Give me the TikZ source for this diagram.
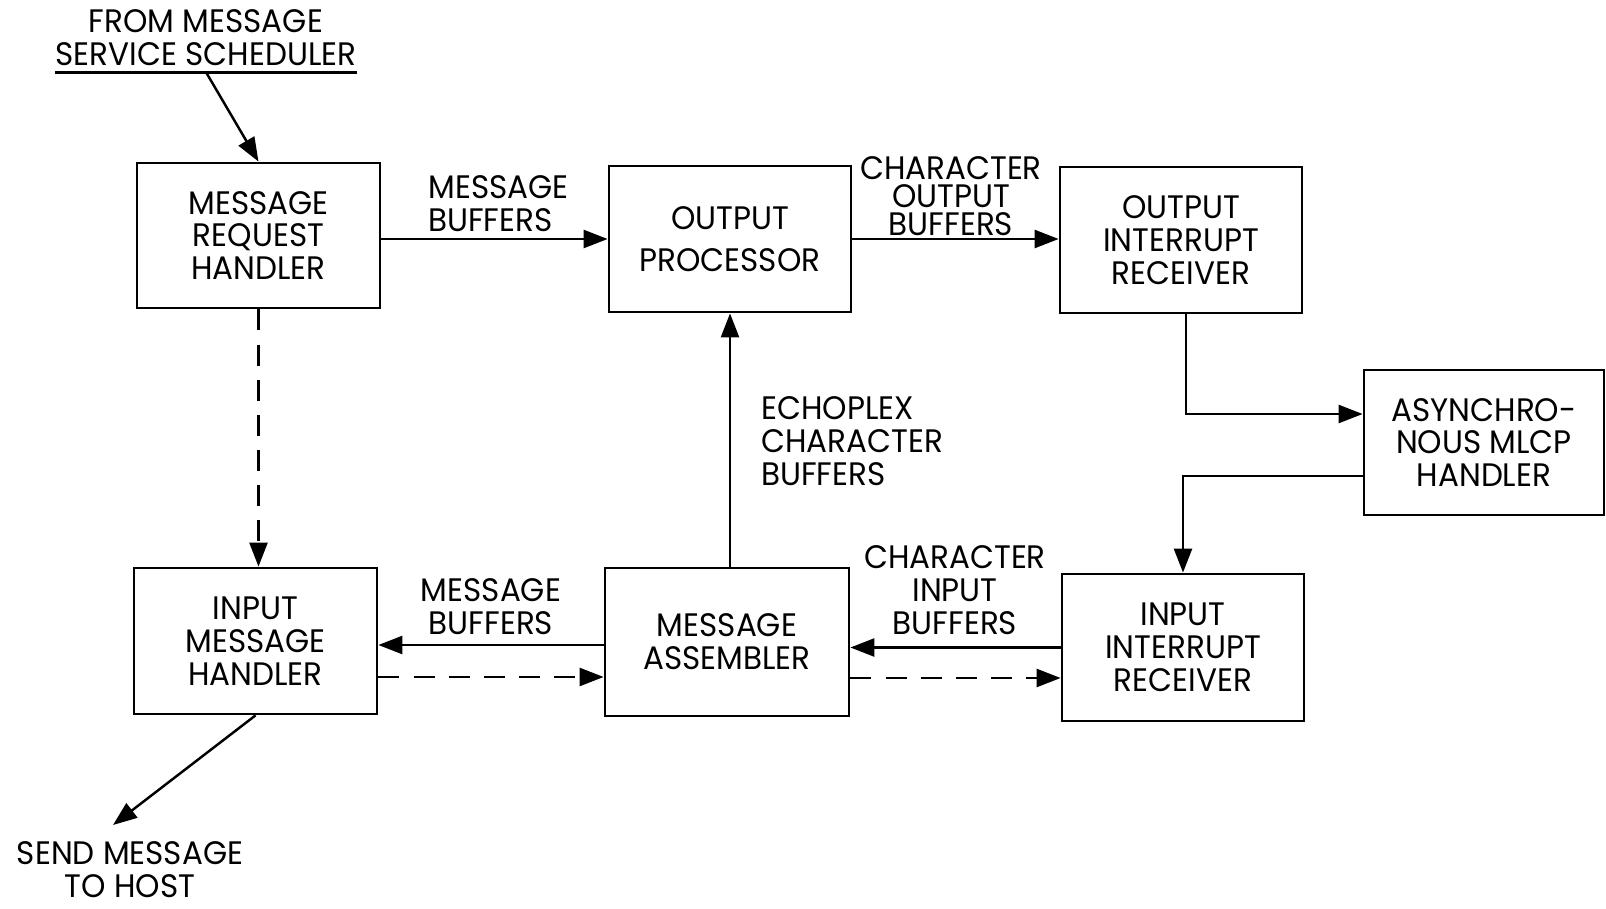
\documentclass[tikz,border=0pt]{standalone}
\usepackage{fontspec}
\setmainfont{Poppins}[FakeStretch=0.955]
\usetikzlibrary{arrows.meta}

\begin{document}
\begin{tikzpicture}[x=0.02cm,y=-0.02cm,
	font=\fontsize{18.5}{18.7}\selectfont,
	>={Triangle[length=0.48cm,width=0.36cm]},
	block/.style={draw,line width=1.6pt,align=center,inner sep=0pt},
	flow/.style={->,line width=1.4pt},
	buflabel/.style={align=left,inner sep=0pt}]
\useasboundingbox (0,0) rectangle (1606,909);

%========================================
% TOP ROW: request handler, output side
%========================================
\node[block, minimum width=4.86cm, minimum height=2.90cm] (mrh) at (258.5,235.5) {MESSAGE\\REQUEST\\HANDLER};
\node[block, minimum width=4.84cm, minimum height=2.92cm] (outproc) at (730,239) {OUTPUT\\[5pt]PROCESSOR};
\node[block, minimum width=4.84cm, minimum height=2.92cm] (oir) at (1181,240) {OUTPUT\\INTERRUPT\\RECEIVER};

% MLCP handler on the right
\node[block, minimum width=4.80cm, minimum height=2.90cm] (amh) at (1484,442.5) {ASYNCHRO-\\NOUS MLCP\\HANDLER};

%========================================
% BOTTOM ROW: input side
%========================================
\node[block, minimum width=4.86cm, minimum height=2.92cm] (imh) at (255.5,641) {INPUT\\MESSAGE\\HANDLER};
\node[block, minimum width=4.88cm, minimum height=2.96cm] (asm) at (727,642) {MESSAGE\\ASSEMBLER};
\node[block, minimum width=4.84cm, minimum height=2.94cm] (iir) at (1183,647.5) {INPUT\\INTERRUPT\\RECEIVER};

%========================================
% IN / OUT of the whole thing
%========================================
\node[align=center, inner sep=0pt, anchor=south] (sched) at (206,66) {FROM MESSAGE\\SERVICE SCHEDULER};
\draw[line width=1.6pt] ([yshift=-3.5pt]sched.south west) -- ([yshift=-3.5pt]sched.south east);
\draw[flow] ([yshift=-3.5pt]sched.south) -- (mrh.north);

\node[align=center, inner sep=0pt, anchor=north] (host) at (130,841) {SEND MESSAGE\\TO HOST};
\draw[flow] (imh.south) -- ([shift={(-0.34cm,0.32cm)}]host.north);

%========================================
% ARROWS: buffers between the blocks
%========================================
% Output path
\draw[flow] (mrh.east |- outproc.west) -- (outproc.west);
\node[buflabel, anchor=south west] (msgbufa) at (428,232) {MESSAGE\\BUFFERS};

\draw[flow] (outproc.east) -- (outproc.east -| oir.west);
\node[buflabel, align=center, anchor=south, font=\fontsize{18.5}{16}\selectfont] (chroutbuf) at (951,236) {CHARACTER\\OUTPUT\\BUFFERS};

% Round the MLCP handler
\coordinate (oirout) at ([xshift=0.1cm]oir.south);
\coordinate (amhin) at ([yshift=0.57cm]amh.west);
\coordinate (amhout) at ([yshift=-0.67cm]amh.west);
\draw[flow] (oirout) |- (amhin);
\draw[flow] (amhout) -| (iir.north);

% Echoplex back to output
\draw[flow] (asm.north -| outproc.south) -- (outproc.south);
\node[buflabel, anchor=north west] (echobuf) at (761,396) {ECHOPLEX\\CHARACTER\\BUFFERS};

% Input path
\coordinate (iirdash) at ([yshift=-0.61cm]iir.west);
\draw[flow] (iir.west) -- (iir.west -| asm.east);
\draw[flow, dash pattern=on 12pt off 8pt] (asm.east |- iirdash) -- (iirdash);
\node[buflabel, align=center, anchor=south] (chrinbuf) at (955,635) {CHARACTER\\INPUT\\BUFFERS};

\coordinate (asmin) at ([yshift=-0.06cm]asm.west);
\coordinate (imhdash) at ([yshift=-0.72cm]imh.east);
\draw[flow] (asmin) -- (asmin -| imh.east);
\draw[flow, dash pattern=on 12pt off 8pt] (imhdash) -- (imhdash -| asm.west);
\node[buflabel, align=center, anchor=south] (msgbufb) at (491,635) {MESSAGE\\BUFFERS};

% Request handler to input handler
\draw[flow, dash pattern=on 12pt off 8pt] (mrh.south) -- (mrh.south |- imh.north);
\end{tikzpicture}
\end{document}
